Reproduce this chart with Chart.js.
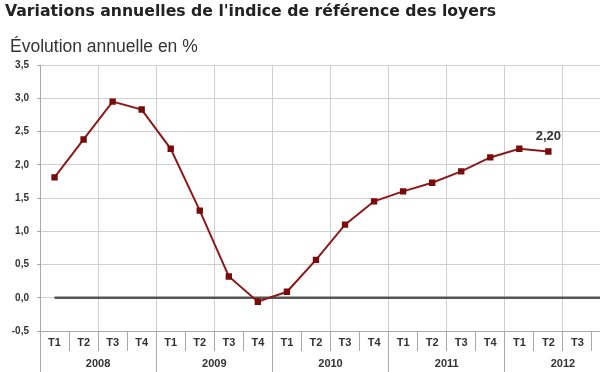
<!DOCTYPE html>
<html>
<head>
<meta charset="utf-8">
<script src="https://cdn.jsdelivr.net/npm/chart.js@4/dist/chart.umd.min.js"></script>
<style>
  html, body { margin: 0; padding: 0; background: #fff; overflow: hidden; }
  #wrap { width: 630px; height: 372px; }
</style>
</head>
<body>
<div id="wrap"><canvas id="irlChart" width="630" height="372"></canvas></div>
<script>
const ctx = document.getElementById("irlChart").getContext("2d");

// quarters, years and IRL yearly change (%)
const quarters = [
  "T1", "T2", "T3", "T4",
  "T1", "T2", "T3", "T4",
  "T1", "T2", "T3", "T4",
  "T1", "T2", "T3", "T4",
  "T1", "T2", "T3", "T4",
];
const years = ["2008", "2009", "2010", "2011", "2012"];
const irl = [
  1.81, 2.38, 2.95, 2.83,
  2.24, 1.31, 0.32, -0.06,
  0.09, 0.57, 1.10, 1.45,
  1.60, 1.73, 1.90, 2.11,
  2.24, 2.20, null, null,
];
const lastLabel = "2,20";
const titleText = "Variations annuelles de l'indice de référence des loyers";
const subtitleText = "Évolution annuelle en %";

const gridGrey = "#cfcfcf";
const sepGrey = "#a8a8a8";
const textGrey = "#333";

// titles, thick zero line and value label on the last point
const extras = {
  id: "extras",
  beforeDraw(chart) {
    const { ctx } = chart;
    ctx.save();
    ctx.textBaseline = "middle";
    ctx.textAlign = "left";
    ctx.fillStyle = "#222";
    ctx.font = "bold 15.7px 'DejaVu Sans', Verdana, sans-serif";
    ctx.fillText(titleText, 5, 12);
    ctx.fillStyle = textGrey;
    ctx.font = "17.5px 'Liberation Sans', Arial, sans-serif";
    ctx.fillText(subtitleText, 10, 47);
    ctx.restore();
  },
  beforeDatasetsDraw(chart) {
    const { ctx, chartArea, scales } = chart;
    const y0 = scales.y.getPixelForValue(0);
    const xStart = scales.x.getPixelForValue(0);
    ctx.save();
    ctx.strokeStyle = "#555";
    ctx.lineWidth = 2.5;
    ctx.beginPath();
    ctx.moveTo(xStart, y0);
    ctx.lineTo(chartArea.right, y0);
    ctx.stroke();
    ctx.restore();
  },
  afterDatasetsDraw(chart) {
    const { ctx } = chart;
    const p = chart.getDatasetMeta(0).data[17];
    ctx.save();
    ctx.font = "bold 13px 'Liberation Sans', Arial, sans-serif";
    ctx.fillStyle = textGrey;
    ctx.textAlign = "center";
    ctx.textBaseline = "middle";
    ctx.fillText(lastLabel, p.x, p.y - 15);
    ctx.restore();
  },
};

new Chart(ctx, {
  type: "line",
  data: {
    labels: quarters,
    datasets: [
      {
        label: "IRL",
        data: irl,
        borderColor: "#8b1a1a",
        borderWidth: 2,
        pointStyle: "rect",
        pointRadius: 4.5,
        pointBackgroundColor: "#7a0a0a",
        pointBorderColor: "#7a0a0a",
        pointBorderWidth: 0,
        tension: 0,
        spanGaps: false,
      },
    ],
  },
  options: {
    responsive: false,
    animation: false,
    layout: { padding: { left: 0, right: 9, top: 65, bottom: 0 } },
    plugins: {
      legend: { display: false },
      tooltip: { enabled: false },
      title: { display: false },
    },
    scales: {
      y: {
        min: -0.5,
        max: 3.5,
        afterFit(scale) { scale.width = 40; },
        border: { display: true, color: sepGrey },
        grid: { color: gridGrey, tickLength: 3, tickColor: sepGrey },
        ticks: {
          stepSize: 0.5,
          padding: 8,
          color: textGrey,
          font: { family: "'Liberation Sans', Arial, sans-serif", size: 10, weight: "bold" },
          callback: (v) => v.toFixed(1).replace(".", ","),
        },
      },
      x: {
        type: "category",
        offset: true,
        afterFit(scale) { scale.height = 16; },
        border: { display: true, color: sepGrey },
        grid: {
          offset: true,
          tickLength: 20,
          color: (c) => (c.index % 2 === 0 ? gridGrey : "rgba(0,0,0,0)"),
          tickColor: sepGrey,
        },
        ticks: {
          padding: -15,
          maxRotation: 0,
          autoSkip: false,
          color: textGrey,
          font: { family: "'Liberation Sans', Arial, sans-serif", size: 11, weight: "bold" },
        },
      },
      x2: {
        type: "category",
        position: "bottom",
        labels: years,
        offset: true,
        afterFit(scale) { scale.height = 25; },
        border: { display: false },
        grid: {
          offset: true,
          drawOnChartArea: false,
          tickLength: 25,
          tickColor: sepGrey,
        },
        ticks: {
          padding: -15,
          maxRotation: 0,
          autoSkip: false,
          color: textGrey,
          font: { family: "'Liberation Sans', Arial, sans-serif", size: 11, weight: "bold" },
        },
      },
    },
  },
  plugins: [extras],
});
</script>
</body>
</html>
